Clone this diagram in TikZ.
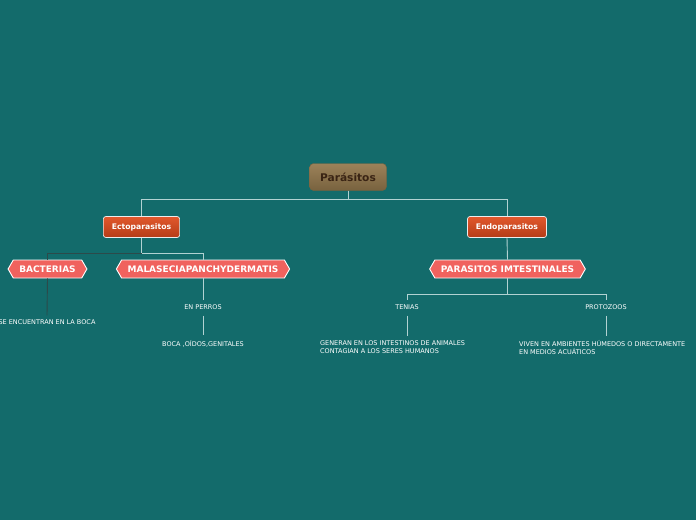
\documentclass[tikz,border=0pt]{standalone}
\usepackage{fontspec}
\setmainfont{DejaVu Sans}
\usepackage{xcolor}
\usetikzlibrary{shapes.symbols}
\definecolor{bgcol}{RGB}{19,107,107}
\definecolor{rootcol}{RGB}{156,130,89}
\definecolor{rootbot}{RGB}{120,98,62}
\definecolor{roottxt}{RGB}{58,36,20}
\definecolor{orgtop}{RGB}{226,88,44}
\definecolor{orgbot}{RGB}{180,60,24}
\definecolor{hexcol}{RGB}{240,98,94}
\definecolor{linkcol}{RGB}{178,210,210}
\definecolor{darkcol}{RGB}{44,74,74}

\begin{document}
\begin{tikzpicture}[x=1pt,y=-1pt,
  rootbox/.style={rounded corners=4pt,top color=rootcol,bottom color=rootbot,
    draw=rootbot,minimum width=77pt,minimum height=27pt,
    text=roottxt,font=\bfseries\fontsize{10.6}{12}\selectfont},
  mainbox/.style={rounded corners=2.5pt,top color=orgtop,bottom color=orgbot,
    draw=white!85!gray,line width=0.7pt,minimum height=21pt,inner xsep=8.5pt,
    text=white,font=\bfseries\fontsize{7.7}{9}\selectfont},
  hexbox/.style={signal,signal from=nowhere,signal to=east and west,signal pointer angle=120,
    fill=hexcol,draw=white,line width=0.9pt,minimum height=18pt,inner xsep=6pt,
    text=white,font=\bfseries\fontsize{9}{10}\selectfont},
  leaf/.style={text=white,inner sep=0pt,font=\fontsize{6.5}{8}\selectfont},
  link/.style={draw=linkcol,line width=0.9pt},
  darklink/.style={draw=darkcol,line width=0.9pt}]
\useasboundingbox (0,0) rectangle (696,520);
\fill[bgcol] (0,0) rectangle (696,520);

% root and main branches
\node[rootbox] (root) at (348,177) {Parásitos};
\node[mainbox] (ecto) at (141.5,227) {Ectoparasitos};
\node[mainbox] (endo) at (507,227) {Endoparasitos};

% second level
\node[hexbox] (bact) at (47.5,269) {BACTERIAS};
\node[hexbox] (malase) at (203,269) {MALASECIAPANCHYDERMATIS};
\node[hexbox] (intest) at (507.5,269) {PARASITOS IMTESTINALES};

% leaves
\node[leaf] (boca) at (47,322.5) {SE ENCUENTRAN EN LA BOCA};
\node[leaf] (perros) at (203,307.5) {EN PERROS};
\node[leaf] (oidos) at (203,343.5) {BOCA ,OÍDOS,GENITALES};
\node[leaf] (tenias) at (407,307.5) {TENIAS};
\node[leaf] (protoz) at (606,307.5) {PROTOZOOS};
\node[leaf,anchor=north west,align=left] (generan) at (320,340)
  {GENERAN EN LOS INTESTINOS DE ANIMALES\\CONTAGIAN A LOS SERES HUMANOS};
\node[leaf,anchor=north west,align=left] (viven) at (519,340)
  {VIVEN EN AMBIENTES HÚMEDOS O DIRECTAMENTE\\EN MEDIOS ACUÁTICOS};

% connectors
\draw[link] (root.south) -- ++(0,8.5) -| (ecto.north);
\draw[link] (root.south) -- ++(0,8.5) -| (endo.north);
\draw[link] (ecto.south) -- ++(0,16) -| (malase.north);
\draw[darklink] (ecto.south) ++(0,16) -| (bact.north);
\draw[darklink] (bact.south) -- ([yshift=4.5pt]boca.north);
\draw[link] (malase.south) -- ([yshift=4.5pt]perros.north);
\draw[link] ([yshift=-5.5pt]perros.south) -- ([yshift=4.5pt]oidos.north);
\draw[link] (endo.south) -- (intest.north);
\draw[link] (intest.south) -- ++(0,16) -| ([yshift=4.5pt]tenias.north);
\draw[link] (intest.south) -- ++(0,16) -| ([yshift=4.5pt]protoz.north);
\draw[link] ([yshift=-5.5pt]tenias.south) -- ([yshift=4pt]tenias.south |- generan.north);
\draw[link] ([yshift=-5.5pt]protoz.south) -- ([yshift=4pt]protoz.south |- viven.north);
\end{tikzpicture}
\end{document}
